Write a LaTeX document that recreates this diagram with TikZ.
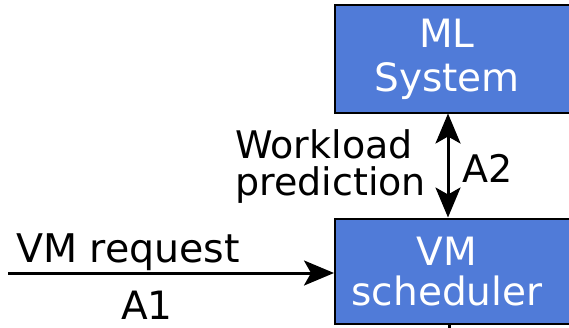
\documentclass[tikz,border=0pt]{standalone}
\usepackage{fontspec}
\setmainfont{DejaVu Sans}
\usetikzlibrary{arrows.meta}
\definecolor{boxblue}{RGB}{80,123,216}
\tikzset{
  block/.style={draw=black, line width=2pt, fill=boxblue, anchor=north west,
    minimum width=400pt, inner sep=0pt},
  blocktext/.style={text=white, align=center, inner sep=0pt, anchor=north,
    font=\fontsize{39}{44}\selectfont},
  label/.style={text=black, inner sep=0pt, font=\fontsize{38}{37}\selectfont},
  flow/.style={line width=3pt, -{Stealth[length=30pt, width=25pt, inset=7pt]}},
  dualflow/.style={line width=3pt, {Stealth[length=30pt, width=25pt, inset=7pt]}-{Stealth[length=30pt, width=25pt, inset=7pt]}},
}
\begin{document}
\begin{tikzpicture}[x=1pt, y=-1pt]
  \useasboundingbox (0,0) rectangle (569,327);
  \clip (0,0) rectangle (569,327);

  % the two system blocks
  \node[block, minimum height=108pt] (ml) at (334,3.5) {};
  \node[block, minimum height=105.5pt] (vm) at (334,217.5) {};
  \node[blocktext] (mltext) at (447,18.5) {ML\\System};
  \node[blocktext, font=\fontsize{39}{40}\selectfont] (vmtext) at (447,236.5) {VM\\scheduler};

  % reference points for the connectors
  \coordinate (ax) at (448,0);
  \coordinate (src) at (8,273);
  \coordinate (down) at (449,340);

  % workload prediction link between the blocks
  \draw[dualflow] (ml.south -| ax) -- (vm.north -| ax);
  \node[label, align=left, anchor=north west] (wl) at (235,129) {Workload\\prediction};
  \node[label, anchor=base west] (a2) at (462,182) {A2};

  % incoming VM request
  \draw[flow] (src) -- (src -| vm.west);
  \node[label, anchor=base west, font=\fontsize{39.5}{40}\selectfont] (req) at (16,262) {VM request};
  \node[label, anchor=base west, font=\fontsize{39}{40}\selectfont] (a1) at (121,319) {A1};

  % outgoing link below the scheduler
  \draw[line width=3pt] (vm.south -| down) -- (down);
\end{tikzpicture}
\end{document}
